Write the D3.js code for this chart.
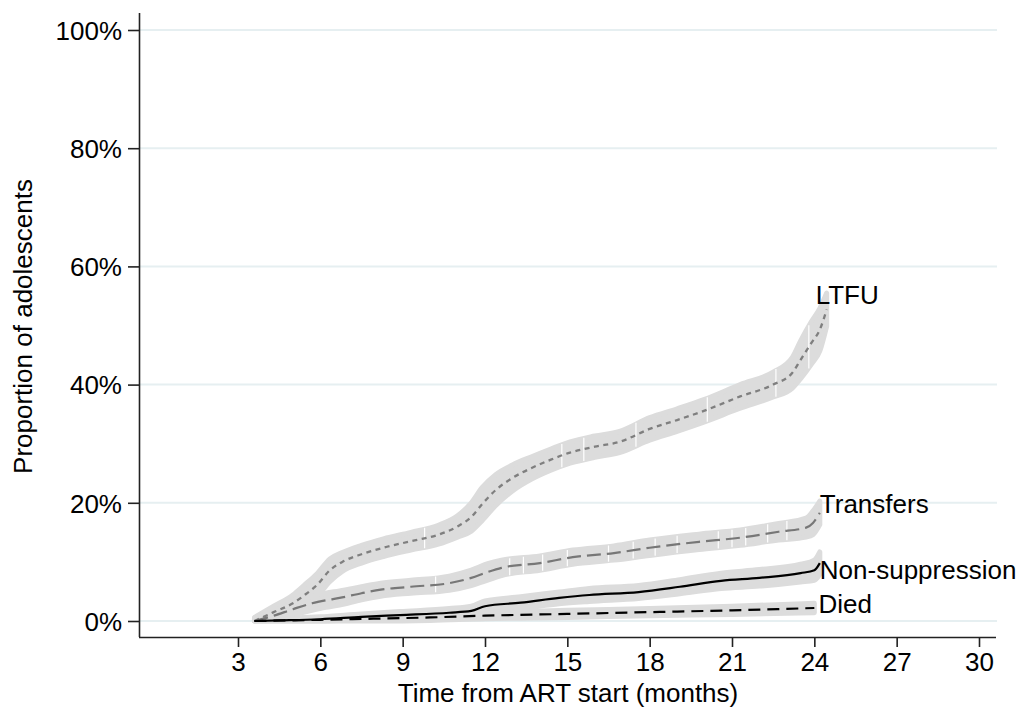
<!DOCTYPE html>
<html lang="en">
<head>
<meta charset="UTF-8">
<title>Cumulative incidence of outcomes</title>
<script src="https://d3js.org/d3.v7.min.js"></script>
<style>
  body { margin: 0; background: #fff; }
  svg { display: block; font-family: "Liberation Sans", Arial, Helvetica, sans-serif; }
</style>
</head>
<body>
<div id="chart"></div>
<script>
// months from ART start, cumulative proportion (%) and half-width of the CI band (%)
const ltfuMonths = [3.6, 4.3, 5.0, 5.4, 5.9, 6.35, 6.8, 7.5, 8.3, 9.3, 10.3, 11.0, 11.5, 11.9, 12.4, 13.0, 13.7, 14.4, 15.1, 16.0, 16.9, 18.0, 19.0, 20.0, 21.3, 22.5, 23.2, 23.5, 23.9, 24.2, 24.45];
const ltfuValues = [0.0, 1.5, 3.0, 4.3, 6.2, 8.6, 10.0, 11.3, 12.4, 13.5, 14.6, 16.0, 17.6, 19.8, 22.2, 24.2, 25.9, 27.3, 28.5, 29.5, 30.3, 32.5, 34.0, 35.6, 38.0, 40.0, 42.0, 44.2, 47.1, 49.3, 52.7];
const ltfuCi     = [0.6, 1.0, 1.4, 1.7, 1.9, 1.9, 1.6, 1.5, 1.5, 1.5, 1.6, 1.8, 2.4, 2.8, 2.6, 2.2, 1.9, 1.8, 1.8, 1.8, 1.8, 1.9, 1.9, 1.9, 2.0, 2.1, 2.6, 3.2, 3.6, 3.6, 2.8];

const transfersMonths = [3.6, 4.3, 5.0, 5.7, 6.2, 6.7, 7.5, 8.2, 9.3, 10.7, 11.5, 12.1, 12.6, 14.0, 15.2, 16.7, 18.0, 19.8, 21.3, 22.7, 23.7, 23.95, 24.2];
const transfersValues = [0.0, 0.9, 2.0, 3.0, 3.5, 3.9, 4.7, 5.3, 5.8, 6.4, 7.3, 8.3, 9.0, 9.8, 10.8, 11.5, 12.4, 13.4, 14.1, 15.1, 15.8, 16.6, 18.3];
const transfersCi     = [0.5, 0.8, 1.0, 1.2, 1.2, 1.2, 1.1, 1.1, 1.1, 1.2, 1.3, 1.4, 1.3, 1.2, 1.2, 1.2, 1.3, 1.3, 1.3, 1.4, 1.6, 2.0, 2.0];

const nonsuppMonths = [3.6, 4.5, 6.0, 7.5, 8.9, 10.7, 11.5, 12.0, 13.3, 14.7, 15.8, 17.6, 19.1, 20.6, 22.0, 23.5, 24.0, 24.2];
const nonsuppValues = [0.0, 0.1, 0.3, 0.7, 1.0, 1.4, 1.7, 2.5, 3.1, 3.9, 4.4, 4.9, 5.8, 6.8, 7.3, 8.1, 8.6, 9.8];
const nonsuppCi     = [0.2, 0.3, 0.4, 0.5, 0.6, 0.7, 0.8, 0.9, 1.0, 1.0, 1.1, 1.1, 1.2, 1.3, 1.4, 1.5, 1.7, 1.9];

const diedMonths = [3.6, 6.0, 8.0, 10.0, 12.0, 15.0, 18.0, 21.0, 24.0];
const diedValues = [0.0, 0.2, 0.4, 0.6, 0.9, 1.2, 1.5, 1.8, 2.2];
const diedCi     = [0.1, 0.3, 0.4, 0.5, 0.5, 0.6, 0.6, 0.7, 0.8];

// censoring marks shown as white ticks on the bands
const ltfuCensor = [9.8, 14.8, 15.6, 17.5, 20.1, 22.6, 23.8];
const transfersCensor = [10.2, 12.9, 13.4, 14.1, 15.0, 16.5, 17.4, 18.2, 19.0, 20.5, 21.0, 21.5, 22.3, 23.0];

// end-of-line labels
const labelNames  = ['LTFU', 'Transfers', 'Non-suppression', 'Died'];
const labelMonth  = [24.05, 24.2, 24.2, 24.15];
const labelValues = [53.6, 18.3, 7.1, 1.4];

const xTicks = [3, 6, 9, 12, 15, 18, 21, 24, 27, 30];
const yTicks = [0, 20, 40, 60, 80, 100];

const width = 1021, height = 713;
const plotLeft = 139, plotRight = 997, plotTop = 13, plotBottom = 637;

const svg = d3.select('#chart').append('svg')
    .attr('width', width)
    .attr('height', height);

const x = d3.scaleLinear().domain([3, 30]).range([238, 979]);
const y = d3.scaleLinear().domain([0, 100]).range([621, 30]);

// gridlines
svg.append('g')
    .selectAll('line')
    .data(yTicks)
    .enter().append('line')
    .attr('x1', plotLeft + 1).attr('x2', plotRight)
    .attr('y1', d => y(d)).attr('y2', d => y(d))
    .attr('stroke', '#e6eff1')
    .attr('stroke-width', 2);

function build(months, values, ci) {
    return months.map((m, i) => ({ m: m, v: values[i], lo: Math.max(0, values[i] - ci[i]), hi: values[i] + ci[i] }));
}

const series = [
    { data: build(ltfuMonths, ltfuValues, ltfuCi), color: '#7f7f7f', width: 2.3, dash: '5,4.5', censor: ltfuCensor },
    { data: build(transfersMonths, transfersValues, transfersCi), color: '#777', width: 2.2, dash: '14,6', censor: transfersCensor },
    { data: build(nonsuppMonths, nonsuppValues, nonsuppCi), color: '#000', width: 2.2, dash: null, censor: [] },
    { data: build(diedMonths, diedValues, diedCi), color: '#000', width: 2.2, dash: '12,7', censor: [] }
];

const area = d3.area()
    .x(d => x(d.m))
    .y0(d => y(d.lo))
    .y1(d => y(d.hi))
    .curve(d3.curveMonotoneX);

const line = d3.line()
    .x(d => x(d.m))
    .y(d => y(d.v))
    .curve(d3.curveMonotoneX);

// confidence bands first
series.forEach(s => {
    svg.append('path')
        .datum(s.data)
        .attr('d', area)
        .attr('fill', '#dcdcdc')
        .attr('stroke', '#dcdcdc')
        .attr('stroke-width', 5)
        .attr('stroke-linejoin', 'round');
});

// censoring ticks
function interp(data, key, m) {
    const i = d3.bisector(d => d.m).right(data, m);
    const a = data[Math.max(0, i - 1)], b = data[Math.min(data.length - 1, i)];
    const t = b.m === a.m ? 0 : (m - a.m) / (b.m - a.m);
    return a[key] + t * (b[key] - a[key]);
}
series.forEach(s => {
    svg.append('g')
        .selectAll('line')
        .data(s.censor)
        .enter().append('line')
        .attr('x1', d => x(d)).attr('x2', d => x(d))
        .attr('y1', d => y(interp(s.data, 'lo', d)) + 1)
        .attr('y2', d => y(interp(s.data, 'hi', d)) - 1)
        .attr('stroke', '#fff')
        .attr('stroke-width', 1.2);
});

// estimate lines
series.forEach(s => {
    svg.append('path')
        .datum(s.data)
        .attr('d', line)
        .attr('fill', 'none')
        .attr('stroke', s.color)
        .attr('stroke-width', s.width)
        .attr('stroke-dasharray', s.dash);
});

// labels
svg.append('g')
    .selectAll('text')
    .data(labelNames)
    .enter().append('text')
    .attr('x', (d, i) => x(labelMonth[i]))
    .attr('y', (d, i) => y(labelValues[i]))
    .attr('font-size', 26)
    .attr('fill', '#000')
    .text(d => d);

// axes
const xAxis = svg.append('g')
    .attr('transform', `translate(0,${plotBottom})`)
    .call(d3.axisBottom(x).tickValues(xTicks).tickSize(10).tickSizeOuter(0).tickPadding(6));
xAxis.select('.domain').attr('d', `M${plotLeft},0.5H${plotRight - 1}`);

const yAxis = svg.append('g')
    .attr('transform', `translate(${plotLeft},0)`)
    .call(d3.axisLeft(y).tickValues(yTicks).tickFormat(d => d + '%').tickSize(11).tickSizeOuter(0).tickPadding(6));
yAxis.select('.domain').attr('d', `M0.5,${plotTop}V${plotBottom}`);

[xAxis, yAxis].forEach(a => {
    a.selectAll('.domain').attr('stroke', '#222').attr('stroke-width', 1.6);
    a.selectAll('.tick line').attr('stroke', '#222').attr('stroke-width', 1.6);
    a.selectAll('.tick text')
        .attr('font-size', 26)
        .attr('font-family', '"Liberation Sans", Arial, Helvetica, sans-serif')
        .attr('fill', '#000');
});
yAxis.selectAll('.tick text').attr('dy', '0.36em');

// axis titles
svg.append('text')
    .attr('x', (plotLeft + plotRight) / 2 + 0)
    .attr('y', 702)
    .attr('text-anchor', 'middle')
    .attr('font-size', 26)
    .text('Time from ART start (months)');

svg.append('text')
    .attr('transform', `translate(32,${(178 + 475) / 2}) rotate(-90)`)
    .attr('text-anchor', 'middle')
    .attr('font-size', 26)
    .text('Proportion of adolescents');
</script>
</body>
</html>
